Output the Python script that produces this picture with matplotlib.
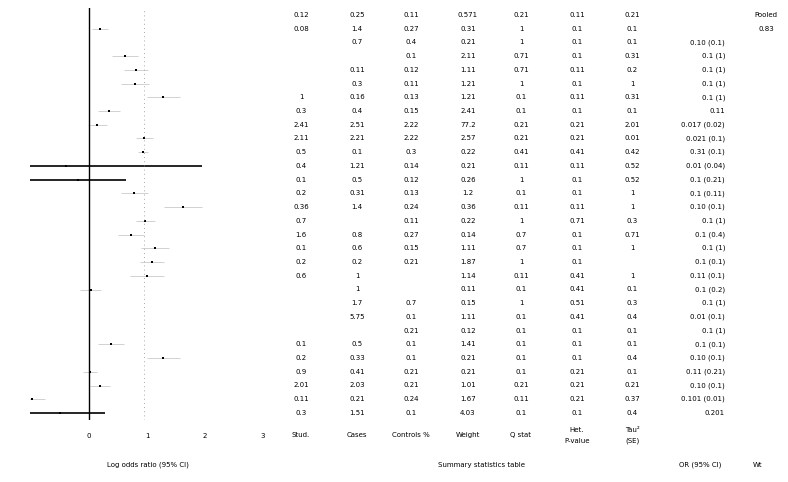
import matplotlib
matplotlib.use("Agg")
import matplotlib.pyplot as plt
import numpy as np

# forest values, one per row (nan = no marker)
est = [np.nan, 0.19, np.nan, 0.62, 0.81, 0.79, 1.28, 0.34, 0.14, 0.95,
       0.93, -0.40, -0.20, 0.78, 1.62, 0.97, 0.72, 1.14, 1.09, 1.00,
       0.03, np.nan, np.nan, np.nan, 0.38, 1.28, 0.02, 0.19, -0.98, -0.50]
lo = [np.nan, 0.05, np.nan, 0.40, 0.60, 0.55, 1.00, 0.15, -0.02, 0.80,
      0.85, -1.60, -1.05, 0.55, 1.30, 0.80, 0.50, 0.90, 0.88, 0.70,
      -0.15, np.nan, np.nan, np.nan, 0.15, 1.00, -0.10, 0.02, -1.20, -1.60]
hi = [np.nan, 0.33, np.nan, 0.84, 1.02, 1.03, 1.56, 0.53, 0.30, 1.10,
      1.01, 1.95, 0.64, 1.01, 1.94, 1.14, 0.94, 1.38, 1.30, 1.30,
      0.21, np.nan, np.nan, np.nan, 0.61, 1.56, 0.14, 0.36, -0.76, 0.28]
bold_rows = [11, 12, 29]
summary_line = 0.95

tick_vals = [0, 1, 2, 3]
tick_labels = ["0", "1", "2", "3"]

# table columns
col_studies = ["0.12", "0.08", "", "", "", "", "1", "0.3", "2.41", "2.11",
               "0.5", "0.4", "0.1", "0.2", "0.36", "0.7", "1.6", "0.1", "0.2", "0.6",
               "", "", "", "", "0.1", "0.2", "0.9", "2.01", "0.11", "0.3"]
col_cases = ["0.25", "1.4", "0.7", "", "0.11", "0.3", "0.16", "0.4", "2.51", "2.21",
             "0.1", "1.21", "0.5", "0.31", "1.4", "", "0.8", "0.6", "0.2", "1",
             "1", "1.7", "5.75", "", "0.5", "0.33", "0.41", "2.03", "0.21", "1.51"]
col_controls = ["0.11", "0.27", "0.4", "0.1", "0.12", "0.11", "0.13", "0.15", "2.22", "2.22",
                "0.3", "0.14", "0.12", "0.13", "0.24", "0.11", "0.27", "0.15", "0.21", "",
                "", "0.7", "0.1", "0.21", "0.1", "0.1", "0.21", "0.21", "0.24", "0.1"]
col_weight = ["0.571", "0.31", "0.21", "2.11", "1.11", "1.21", "1.21", "2.41", "77.2", "2.57",
              "0.22", "0.21", "0.26", "1.2", "0.36", "0.22", "0.14", "1.11", "1.87", "1.14",
              "0.11", "0.15", "1.11", "0.12", "1.41", "0.21", "0.21", "1.01", "1.67", "4.03"]
col_q = ["0.21", "1", "1", "0.71", "0.71", "1", "0.1", "0.1", "0.21", "0.21",
         "0.41", "0.11", "1", "0.1", "0.11", "1", "0.7", "0.7", "1", "0.11",
         "0.1", "1", "0.1", "0.1", "0.1", "0.1", "0.1", "0.21", "0.11", "0.1"]
col_het = ["0.11", "0.1", "0.1", "0.1", "0.11", "0.1", "0.11", "0.1", "0.21", "0.21",
           "0.41", "0.11", "0.1", "0.1", "0.11", "0.71", "0.1", "0.1", "0.1", "0.41",
           "0.41", "0.51", "0.41", "0.1", "0.1", "0.1", "0.21", "0.21", "0.21", "0.1"]
col_tau = ["0.21", "0.1", "0.1", "0.31", "0.2", "1", "0.31", "0.1", "2.01", "0.01",
           "0.42", "0.52", "0.52", "1", "1", "0.3", "0.71", "1", "", "1",
           "0.1", "0.3", "0.4", "0.1", "0.1", "0.4", "0.1", "0.21", "0.37", "0.4"]
col_ci = ["", "", "0.10 (0.1)", "0.1 (1)", "0.1 (1)", "0.1 (1)", "0.1 (1)", "0.11", "0.017 (0.02)", "0.021 (0.1)",
          "0.31 (0.1)", "0.01 (0.04)", "0.1 (0.21)", "0.1 (0.11)", "0.10 (0.1)", "0.1 (1)", "0.1 (0.4)", "0.1 (1)", "0.1 (0.1)", "0.11 (0.1)",
          "0.1 (0.2)", "0.1 (1)", "0.01 (0.1)", "0.1 (1)", "0.1 (0.1)", "0.10 (0.1)", "0.11 (0.21)", "0.10 (0.1)", "0.101 (0.01)", "0.201"]
col_extra = ["Pooled", "0.83"]

headers = ["Stud.", "Cases", "Controls %", "Weight", "Q stat"]
headers_two = [("Het.", "P-value"), ("Tau\u00b2", "(SE)")]
label_left = "Log odds ratio (95% CI)"
label_mid = "Summary statistics table"
label_right = ["OR (95% CI)", "Wt"]

W, H = 788, 482
FS = 5

fig = plt.figure(figsize=(W / 100, H / 100), dpi=100)
ax = fig.add_axes([30 / W, 1 - 420 / H, 240 / W, 412 / H])

rows = np.arange(len(est))
for i in rows:
    if np.isnan(est[i]) and np.isnan(lo[i]):
        continue
    if i in bold_rows:
        ax.hlines(i, lo[i], hi[i], color="black", lw=1.2)
    else:
        ax.hlines(i, lo[i], hi[i], color="0.75", lw=0.5)
ax.plot(est, rows, "s", ms=2, color="black", mew=0)
ax.axvline(0, color="black", lw=1)
ax.axvline(summary_line, color="0.55", lw=0.6, ls=(0, (1, 4)))

ax.set_xlim(-1.02, 3.12)
ax.set_ylim(len(est) - 0.5, -0.5)
ax.set_xticks(tick_vals)
ax.set_xticklabels(tick_labels)
ax.tick_params(axis="x", length=0, pad=9, labelsize=FS)
ax.set_yticks([])
for s in ax.spines.values():
    s.set_visible(False)


def row_y(i):
    return 1 - (15 + i * 13.72) / H


col_x = [301, 357, 411, 468, 521, 577, 632]
cols = [col_studies, col_cases, col_controls, col_weight, col_q, col_het, col_tau]
for cx, col in zip(col_x, cols):
    for i, s in enumerate(col):
        if s:
            fig.text(cx / W, row_y(i), s, ha="center", va="center", fontsize=FS)
for i, s in enumerate(col_ci):
    if s:
        fig.text(725 / W, row_y(i), s, ha="right", va="center", fontsize=FS)
for i, s in enumerate(col_extra):
    fig.text(766 / W, row_y(i), s, ha="center", va="center", fontsize=FS)

for cx, h in zip(col_x[:5], headers):
    fig.text(cx / W, 1 - 435 / H, h, ha="center", va="center", fontsize=FS)
for cx, (h1, h2) in zip(col_x[5:], headers_two):
    fig.text(cx / W, 1 - 430 / H, h1, ha="center", va="center", fontsize=FS)
    fig.text(cx / W, 1 - 441 / H, h2, ha="center", va="center", fontsize=FS)

fig.text(148 / W, 1 - 465 / H, label_left, ha="center", va="center", fontsize=FS)
fig.text(481 / W, 1 - 465 / H, label_mid, ha="center", va="center", fontsize=FS)
fig.text(700 / W, 1 - 465 / H, label_right[0], ha="center", va="center", fontsize=FS)
fig.text(758 / W, 1 - 465 / H, label_right[1], ha="center", va="center", fontsize=FS)

fig.savefig("out.png", dpi=100)
